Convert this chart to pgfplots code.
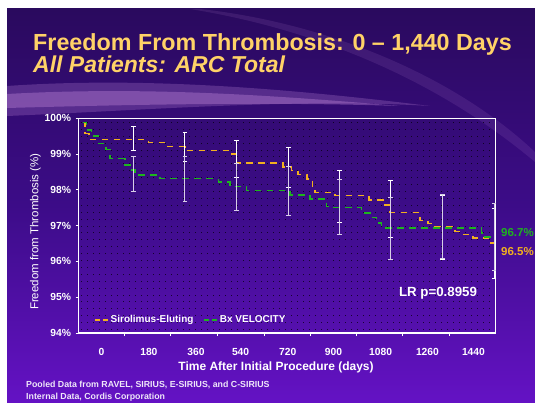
\documentclass[border=0pt]{standalone}
\usepackage{pgfplots}
\pgfplotsset{compat=1.18}
\usepackage{fontspec}
\setmainfont{Liberation Sans}
\definecolor{bgtop}{HTML}{2A0A5E}
\definecolor{bgmid}{HTML}{3C0C88}
\definecolor{bgbot}{HTML}{6412C4}
\definecolor{titleyel}{HTML}{FFD267}
\definecolor{sescol}{HTML}{F2B01E}
\definecolor{bxcol}{HTML}{1EB41E}
\definecolor{swoosh}{HTML}{C890E0}
\begin{document}
\begin{tikzpicture}[x=1pt,y=1pt]
\useasboundingbox (0,0) rectangle (535,402);
\fill[white] (0,0) rectangle (535,402);
% slide background
\shade[top color=bgtop, bottom color=bgbot, middle color=bgmid] (7,0) rectangle (535,393);
% swoosh
\fill[swoosh, opacity=0.25] (7,316) .. controls (150,326) and (300,312) .. (430,296) .. controls (300,304) and (150,292) .. (7,286) -- cycle;
\fill[swoosh, opacity=0.35] (7,308) .. controls (150,316) and (280,306) .. (400,296) .. controls (280,300) and (150,298) .. (7,294) -- cycle;
\fill[swoosh, opacity=0.12] (200,393) .. controls (320,380) and (450,330) .. (535,250) -- (535,240) .. controls (440,320) and (320,372) .. (190,393) -- cycle;
% dotted pattern in plot area
\foreach \i in {0,...,30} {
  \draw[black, opacity=0.7, line width=1pt, dash pattern=on 1pt off 5pt] (81,{72.5+\i*6.9}) -- (494,{72.5+\i*6.9});
}
% titles
\node[anchor=base west, inner sep=0pt, text=titleyel, font=\bfseries\fontsize{23.3}{26}\selectfont] at (33,351) {Freedom From Thrombosis: 0 -- 1,440 Days};
\node[anchor=base west, inner sep=0pt, text=titleyel, font=\bfseries\itshape\fontsize{23}{26}\selectfont] at (33,329.5) {All Patients: ARC Total};
\begin{axis}[
  at={(78.5pt,69pt)}, anchor=south west,
  scale only axis, width=417.1pt, height=214.7pt,
  xmin=-14.3, xmax=1445.5, ymin=94, ymax=100,
  axis line style={white, line width=1.2pt},
  tick style={white, line width=0.9pt},
  tick align=outside, major tick length=3pt,
  xtick pos=bottom, ytick pos=left,
  ytick={94,95,96,97,98,99,100},
  yticklabels={94\%,95\%,96\%,97\%,98\%,99\%,100\%},
  xtick={147,308,473,637,798,959,1120,1285},
  xticklabels={},
  extra x ticks={66,232,397,553,718,878,1043,1207,1368},
  extra x tick labels={0,180,360,540,720,900,1080,1260,1440},
  extra x tick style={major tick length=0pt, xticklabel style={yshift=-12pt}},
  tick label style={text=white, font=\bfseries\fontsize{10.3}{12}\selectfont},
  yticklabel style={xshift=-1pt},
  xlabel={Time After Initial Procedure (days)},
  xlabel style={text=white, font=\bfseries\fontsize{12}{14}\selectfont, xshift=-11pt, yshift=4pt},
  ylabel={Freedom from Thrombosis (\%)},
  ylabel style={text=white, font=\fontsize{11.5}{13}\selectfont, yshift=-3pt, xshift=-6pt},
  legend style={at={(rel axis cs:0.035,0.025)}, anchor=south west, draw=none, fill=none,
    text=white, font=\bfseries\fontsize{10}{12}\selectfont, inner sep=1pt},
  legend columns=2,
  /tikz/every even column/.append style={column sep=8pt},
  legend image code/.code={\draw[#1, dash pattern=on 5pt off 3pt] (0pt,0pt) -- (13pt,0pt);},
  clip=false,
]
\addplot[const plot mark left, sescol, line width=1.4pt, dash pattern=on 6.5pt off 5.5pt] coordinates {
(0,99.88) (8,99.58) (23,99.41) (230,99.32) (297,99.21) (358,99.10) (516,99.00) (539,98.75)
(702,98.64) (732,98.54) (754,98.43) (785,98.30) (805,98.05) (813,97.93) (883,97.84)
(1003,97.72) (1058,97.58) (1076,97.37) (1181,97.14) (1209,97.06) (1233,96.97) (1303,96.83)
(1327,96.76) (1367,96.66) (1420,96.51) (1440,96.51)
};
\addlegendentry{Sirolimus-Eluting}
\addplot[const plot mark left, bxcol, line width=1.4pt, dash pattern=on 6.5pt off 5.5pt] coordinates {
(0,99.88) (14,99.67) (32,99.50) (55,99.30) (82,99.13) (96,98.87) (148,98.70) (168,98.56)
(183,98.42) (271,98.31) (475,98.22) (516,98.09) (574,97.98) (726,97.86) (796,97.74)
(854,97.53) (872,97.50) (977,97.35) (1006,97.23) (1029,97.07) (1047,96.93) (1397,96.79)
(1408,96.68) (1440,96.68)
};
\addlegendentry{Bx VELOCITY}
% confidence bars: Sirolimus-Eluting
\addplot[forget plot, draw=none, mark=none, error bars/.cd, y dir=both, y explicit,
  error bar style={white, line width=1pt}, error mark options={white, line width=1pt, mark size=2.2pt, rotate=90}]
coordinates {
(178,99.43) +- (0,0.33)
(358,99.20) +- (0,0.41)
(539,98.855) +- (0,0.515)
(720,98.625) +- (0,0.565)
(899,97.81) +- (0,0.73)
(1078,97.455) +- (0,0.795)
(1259,96.95) +- (0,0.89)
(1440,96.505) +- (0,0.975)
};
% confidence bars: Bx VELOCITY
\addplot[forget plot, draw=none, mark=none, error bars/.cd, y dir=both, y explicit,
  error bar style={white!80!bgmid, line width=1pt}, error mark options={white!80!bgmid, line width=1pt, mark size=2.2pt, rotate=90}]
coordinates {
(178,98.44) +- (0,0.49)
(358,98.30) +- (0,0.63)
(539,98.07) +- (0,0.66)
(720,97.96) +- (0,0.69)
(899,97.51) +- (0,0.77)
(1078,96.92) +- (0,0.86)
(1259,96.97) +- (0,0.89)
(1440,96.675) +- (0,0.935)
};
\end{axis}
% annotations
\node[text=white, font=\bfseries\fontsize{13.3}{15}\selectfont] at (438,109) {LR p=0.8959};
\node[anchor=west, text=bxcol, font=\bfseries\fontsize{11.5}{13}\selectfont, inner sep=0pt] at (501,169) {96.7\%};
\node[anchor=west, text=sescol, font=\bfseries\fontsize{11.5}{13}\selectfont, inner sep=0pt] at (501,150) {96.5\%};
% footer
\node[anchor=west, text=white!90!bgbot, font=\bfseries\fontsize{8.8}{10}\selectfont, inner sep=0pt] at (26,17) {Pooled Data from RAVEL, SIRIUS, E-SIRIUS, and C-SIRIUS};
\node[anchor=west, text=white!90!bgbot, font=\bfseries\fontsize{8.8}{10}\selectfont, inner sep=0pt] at (26,5) {Internal Data, Cordis Corporation};
\end{tikzpicture}
\end{document}
